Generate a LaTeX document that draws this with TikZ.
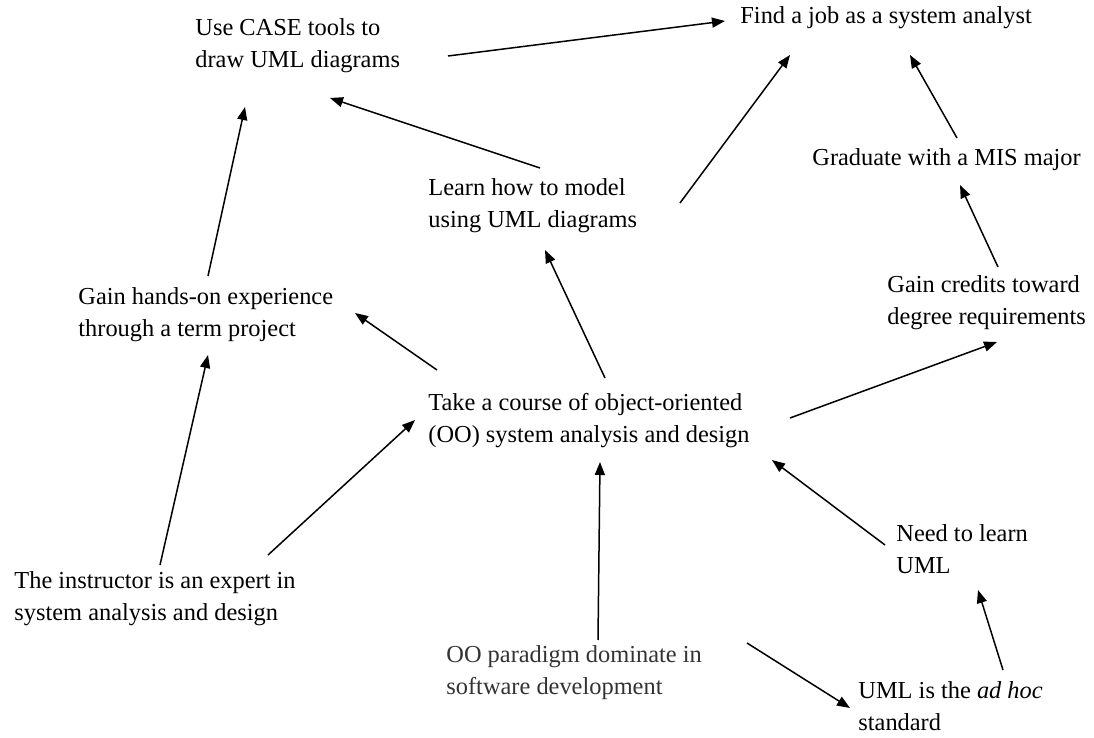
\documentclass[tikz,border=0pt]{standalone}
\usepackage{fontspec}
\setmainfont{Liberation Serif}
\usetikzlibrary{arrows.meta}
\begin{document}
\begin{tikzpicture}[x=0.5pt,y=-0.5pt,
  lbl/.style={anchor=west,inner sep=0pt,align=left,font=\fontsize{12.2pt}{16pt}\selectfont},
  arr/.style={-{Triangle[length=6.5pt,width=5pt]},line width=0.75pt}]
\useasboundingbox (0,0) rectangle (1094,738);
\node[lbl] (case) at (195,46) {Use CASE tools to\\draw UML diagrams};
\node[lbl] (job) at (740,18) {Find a job as a system analyst};
\node[lbl] (grad) at (812,160) {Graduate with a MIS major};
\node[lbl] (learn) at (428,206) {Learn how to model\\using UML diagrams};
\node[lbl] (hands) at (78,315) {Gain hands-on experience\\through a term project};
\node[lbl] (credits) at (887,303) {Gain credits toward\\degree requirements};
\node[lbl] (course) at (428,421) {Take a course of object-oriented\\(OO) system analysis and design};
\node[lbl] (need) at (896,549) {Need to learn\\UML};
\node[lbl] (instr) at (14,599) {The instructor is an expert in\\system analysis and design};
\node[lbl,text=black!80] (oo) at (446,673) {OO paradigm dominate in\\software development};
\node[lbl] (adhoc) at (858,706) {UML is the \textit{ad hoc}\\standard};
\draw[arr] ([shift={(253,10)}]case.west) -- ([shift={(-15,3)}]job.west);
\draw[arr] ([shift={(112,-38)}]learn.west) -- ([shift={(135,52)}]case.west);
\draw[arr] ([shift={(252,-3)}]learn.west) -- ([shift={(50,37)}]job.west);
\draw[arr] ([shift={(145,-22)}]grad.west) -- ([shift={(170,37)}]job.west);
\draw[arr] ([shift={(111,-36)}]credits.west) -- ([shift={(148,25)}]grad.west);
\draw[arr] ([shift={(177,-43)}]course.west) -- ([shift={(117,44)}]learn.west);
\draw[arr] ([shift={(9,-51)}]course.west) -- ([shift={(277,-2)}]hands.west);
\draw[arr] ([shift={(362,-3)}]course.west) -- ([shift={(110,39)}]credits.west);
\draw[arr] ([shift={(130,-39)}]hands.west) -- ([shift={(50,61)}]case.west);
\draw[arr] ([shift={(146,-34)}]instr.west) -- ([shift={(130,40)}]hands.west);
\draw[arr] ([shift={(254,-44)}]instr.west) -- ([shift={(-13,-1)}]course.west);
\draw[arr] ([shift={(152,-33)}]oo.west) -- ([shift={(172,41)}]course.west);
\draw[arr] ([shift={(-11,-4)}]need.west) -- ([shift={(344,39)}]course.west);
\draw[arr] ([shift={(145,-36)}]adhoc.west) -- ([shift={(82,41)}]need.west);
\draw[arr] ([shift={(301,-30)}]oo.west) -- ([shift={(-8,2)}]adhoc.west);
\end{tikzpicture}
\end{document}
